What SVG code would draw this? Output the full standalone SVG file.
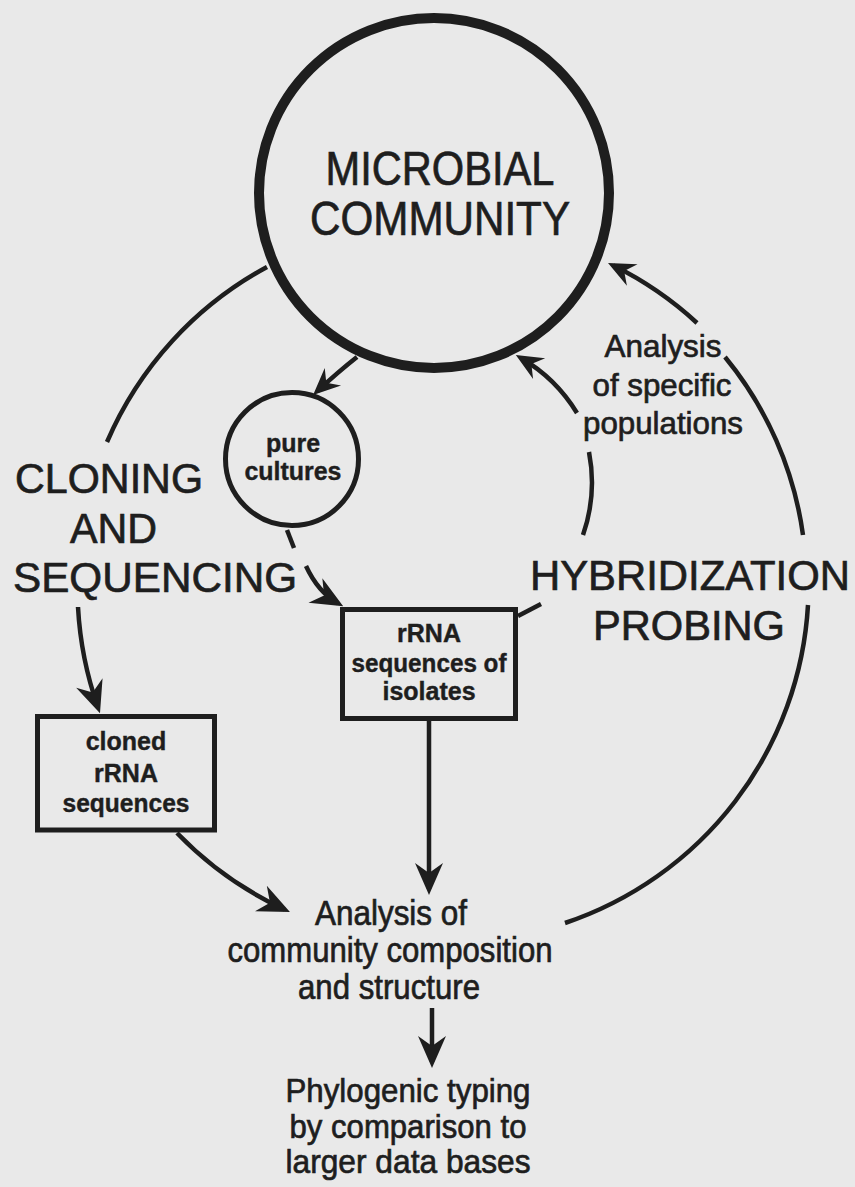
<svg xmlns="http://www.w3.org/2000/svg" width="855" height="1187" viewBox="0 0 855 1187">
<defs>
<style>
.bg{fill:#e9e9e9}
.ln{fill:none;stroke:#1e1e1e;stroke-width:4.5}
.box{fill:none;stroke:#1e1e1e;stroke-width:5}
.t{font-family:"Liberation Sans",Arial,sans-serif;fill:#1e1e1e;text-anchor:middle;stroke:#1e1e1e;stroke-width:0.7}
.ts{font-family:"Liberation Sans",Arial,sans-serif;fill:#1e1e1e;stroke:#1e1e1e;stroke-width:0.7}
.b{font-weight:bold;stroke-width:0.4}
</style>
<marker id="ah" markerUnits="userSpaceOnUse" markerWidth="38" markerHeight="34" viewBox="-34 -17 38 34" refX="-6" refY="0" orient="auto">
<path d="M0,0 L-32,-14 L-22,0 L-32,14 Z" fill="#1e1e1e"/>
</marker>
<marker id="ahs" markerUnits="userSpaceOnUse" markerWidth="32" markerHeight="30" viewBox="-29 -15 32 30" refX="-6" refY="0" orient="auto">
<path d="M0,0 L-27,-12 L-18,0 L-27,12 Z" fill="#1e1e1e"/>
</marker>
</defs>
<rect class="bg" x="0" y="0" width="855" height="1187"/>

<g id="connectors">
<path class="ln" d="M357 357 Q 338 372 317.5 391" marker-end="url(#ahs)"/>
<path class="ln" d="M287 530 L294 548"/>
<path class="ln" d="M306 566 Q 318 592 338 603.4" marker-end="url(#ah)"/>
<path class="ln" d="M267 267 A361 361 0 0 0 107 442"/>
<path class="ln" d="M78 607 A361 361 0 0 0 98 707.5" marker-end="url(#ah)"/>
<path class="ln" d="M177 833 A361 361 0 0 0 284.5 909.5" marker-end="url(#ah)"/>
<path class="ln" d="M429 721 L429 889" marker-end="url(#ah)"/>
<path class="ln" d="M432 1008 L432 1062" marker-end="url(#ah)"/>
<path class="ln" d="M565 923 A357 357 0 0 0 808 605"/>
<path class="ln" d="M803 535 A357 357 0 0 0 725 357"/>
<path class="ln" d="M697 323 A357 357 0 0 0 613.4 265.6" marker-end="url(#ahs)"/>
<path class="ln" d="M583 535 A160 160 0 0 0 589 452"/>
<path class="ln" d="M577 413 A160 160 0 0 0 521 358" marker-end="url(#ahs)"/>
<path class="ln" d="M518 616 L541 604"/>
</g>

<g id="microbial-community">
<circle cx="434" cy="193" r="175" fill="none" stroke="#1e1e1e" stroke-width="10"/>
<text class="t" x="440" y="185" font-size="48" textLength="229" lengthAdjust="spacingAndGlyphs">MICROBIAL</text>
<text class="t" x="440" y="235" font-size="48" textLength="260" lengthAdjust="spacingAndGlyphs">COMMUNITY</text>
</g>

<g id="pure-cultures">
<circle cx="292" cy="459" r="66.5" fill="none" stroke="#1e1e1e" stroke-width="5"/>
<text class="t b" x="293" y="452" font-size="25">pure</text>
<text class="t b" x="293" y="480" font-size="25" textLength="97" lengthAdjust="spacingAndGlyphs">cultures</text>
</g>

<g id="cloning-label">
<text class="ts" x="15" y="493" font-size="42" textLength="188" lengthAdjust="spacingAndGlyphs">CLONING</text>
<text class="ts" x="70" y="543" font-size="42" textLength="87" lengthAdjust="spacingAndGlyphs">AND</text>
<text class="ts" x="13" y="592" font-size="42" textLength="284" lengthAdjust="spacingAndGlyphs">SEQUENCING</text>
</g>

<g id="hybridization-label">
<text class="ts" x="530" y="590" font-size="42" textLength="320" lengthAdjust="spacingAndGlyphs">HYBRIDIZATION</text>
<text class="ts" x="593" y="640" font-size="42" textLength="192" lengthAdjust="spacingAndGlyphs">PROBING</text>
</g>

<g id="specific-populations">
<text class="t" x="663" y="357" font-size="32" textLength="117" lengthAdjust="spacingAndGlyphs">Analysis</text>
<text class="t" x="662" y="396" font-size="32" textLength="139" lengthAdjust="spacingAndGlyphs">of specific</text>
<text class="t" x="663" y="434" font-size="32" textLength="160" lengthAdjust="spacingAndGlyphs">populations</text>
</g>

<g id="rrna-isolates">
<rect class="box" x="342.5" y="609.5" width="173" height="109"/>
<text class="t b" x="429" y="642" font-size="25">rRNA</text>
<text class="t b" x="429" y="672" font-size="25" textLength="155" lengthAdjust="spacingAndGlyphs">sequences of</text>
<text class="t b" x="429" y="700" font-size="25">isolates</text>
</g>

<g id="cloned-rrna">
<rect class="box" x="37.5" y="716.5" width="177" height="113.5"/>
<text class="t b" x="126" y="750" font-size="25">cloned</text>
<text class="t b" x="126" y="782" font-size="25">rRNA</text>
<text class="t b" x="126" y="812" font-size="25" textLength="127" lengthAdjust="spacingAndGlyphs">sequences</text>
</g>

<g id="community-analysis">
<text class="t" x="391" y="925" font-size="35" textLength="152" lengthAdjust="spacingAndGlyphs">Analysis of</text>
<text class="t" x="390" y="962" font-size="35" textLength="325" lengthAdjust="spacingAndGlyphs">community composition</text>
<text class="t" x="389" y="999" font-size="35" textLength="182" lengthAdjust="spacingAndGlyphs">and structure</text>
</g>

<g id="phylogenic-typing">
<text class="t" x="408" y="1102" font-size="34" textLength="245" lengthAdjust="spacingAndGlyphs">Phylogenic typing</text>
<text class="t" x="408" y="1138" font-size="34" textLength="237" lengthAdjust="spacingAndGlyphs">by comparison to</text>
<text class="t" x="408" y="1173" font-size="34" textLength="245" lengthAdjust="spacingAndGlyphs">larger data bases</text>
</g>
</svg>
